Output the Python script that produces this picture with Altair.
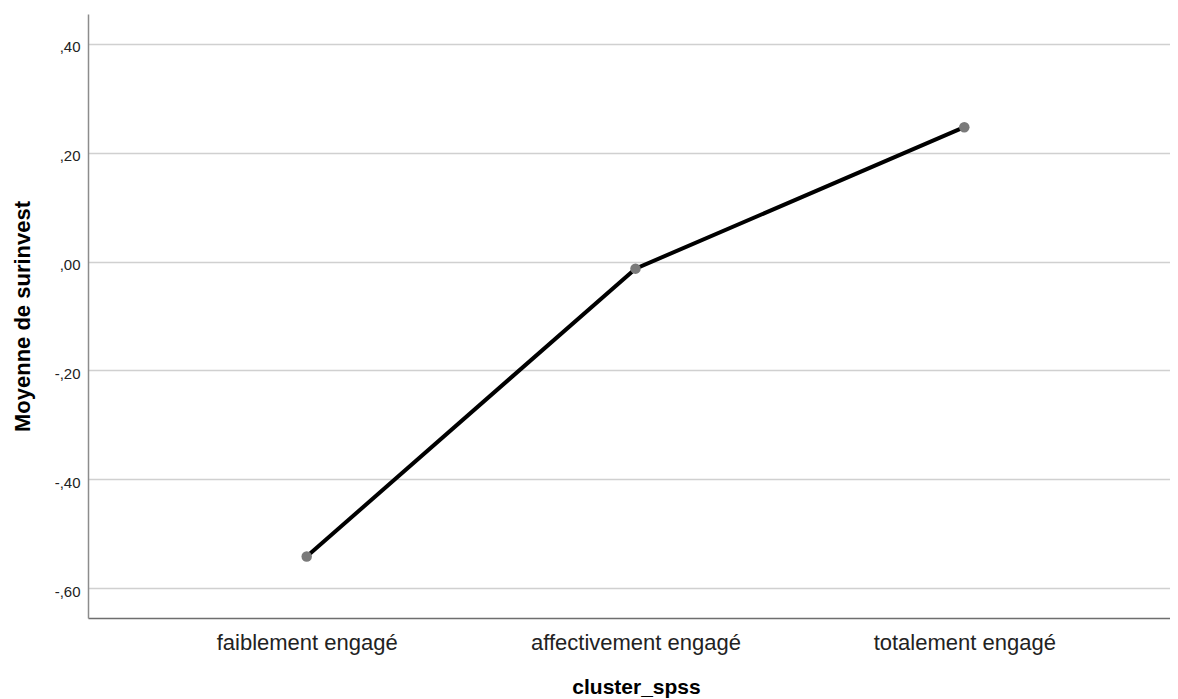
import altair as alt
import pandas as pd

categories = ["faiblement engagé", "affectivement engagé", "totalement engagé"]
means = [-0.542, -0.013, 0.247]
y_ticks = [-0.6, -0.4, -0.2, 0.0, 0.2, 0.4]

df = pd.DataFrame({"cluster": categories, "mean": means})

FONT = "Liberation Sans"

x_enc = alt.X(
    "cluster:N",
    sort=categories,
    scale=alt.Scale(type="point", padding=0.6454, align=0.5153),
    axis=alt.Axis(
        title="cluster_spss",
        ticks=False,
        tickSize=0,
        grid=False,
        labelAngle=0,
        labelFontSize=22,
        labelFont=FONT,
        labelColor="#222222",
        labelPadding=14,
        labelLimit=0,
        domainColor="#6e6e6e",
        domainWidth=1.5,
        titleFont=FONT,
        titleFontSize=21,
        titleFontWeight="bold",
        titleColor="#000000",
        titleX=548,
        titleY=75,
        titleBaseline="alphabetic",
        titleAlign="center",
    ),
)

y_enc = alt.Y(
    "mean:Q",
    scale=alt.Scale(domain=[-0.655, 0.455], nice=False, zero=False),
    axis=alt.Axis(
        title="Moyenne de surinvest",
        values=y_ticks,
        labelExpr="(datum.value < -0.001 ? '-' : '') + replace(format(abs(datum.value), '.2f'), '0.', ',')",
        ticks=False,
        tickSize=0,
        grid=True,
        gridColor="#d0d0d0",
        gridWidth=1.5,
        domainColor="#8c8c8c",
        domainWidth=1.5,
        labelFont=FONT,
        labelFontSize=15,
        labelColor="#222222",
        labelPadding=8,
        labelOffset=3,
        titleFont=FONT,
        titleFontSize=22,
        titleFontWeight="bold",
        titleColor="#000000",
        titleAngle=270,
        titleX=-65.5,
        titleY=302,
        titleBaseline="middle",
        titleAlign="center",
    ),
)

base = alt.Chart(df).encode(x=x_enc, y=y_enc)

line = base.mark_line(color="#000000", strokeWidth=4)
points = base.mark_point(filled=True, color="#7a7a7a", opacity=1, size=110)

chart = (
    alt.layer(line, points)
    .properties(
        width=1082,
        height=604,
        autosize=alt.AutoSizeParams(type="none"),
        padding={"left": 80, "top": 6, "right": 0, "bottom": 81},
        background="#ffffff",
    )
    .configure_view(stroke=None)
)

chart.save("out.html", embed_options={"renderer": "svg", "actions": False})
